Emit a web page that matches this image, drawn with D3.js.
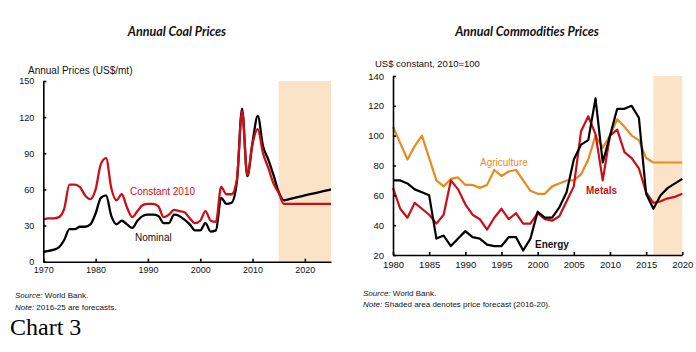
<!DOCTYPE html>
<html>
<head>
<meta charset="utf-8">
<script src="https://cdn.jsdelivr.net/npm/d3@7"></script>
<style>
  body { margin: 0; background: #fff; }
  svg { display: block; font-family: "Liberation Sans", Arial, sans-serif; }
</style>
</head>
<body>
<div id="chart"></div>
<script>
// Data
var coalYears = d3.range(1970, 2026);
var coalNominal = [8, 9, 10, 12, 18, 27, 27, 29, 29, 31, 40, 53, 55, 38, 31, 34, 31, 28, 34, 38,
    39, 39, 38, 32, 32, 39, 38, 35, 31, 26, 26, 32, 25, 26, 53, 48, 49, 66, 127, 71,
    99, 121, 96, 85, 72, 58, 51, 52, 53, 54, 55, 56, 57, 58, 59, 60];
var coalConstant = [35, 36, 36, 37, 44, 64, 64, 62, 55, 52, 60, 81, 86, 61, 51, 56, 45, 37, 42, 47,
    48, 48, 46, 37, 39, 43, 42, 41, 36, 32, 34, 42, 34, 33, 62, 56, 56, 68, 125, 72,
    98, 110, 90, 78, 65, 57, 48, 48, 48, 48, 48, 48, 48, 48, 48, 48];
var coalYTicks = [0, 30, 60, 90, 120, 150];
var coalXTicks = [1970, 1980, 1990, 2000, 2010, 2020];

var commYears = d3.range(1980, 2021);
var agriculture = [106, 95, 84, 93, 100, 85, 70, 66, 71, 72, 67, 67, 65, 67, 77, 73, 76, 77, 70, 63,
    61, 61, 66, 68, 70, 70, 74, 84, 100, 92, 100, 111, 106, 100, 97, 85, 82, 82, 82, 82, 82];
var metals = [65, 51, 45, 55, 51, 47, 41, 47, 70, 64, 54, 47, 44, 37, 45, 51, 44, 48, 41, 41,
    48, 44, 43, 46, 56, 66, 103, 113, 101, 70, 100, 104, 89, 85, 78, 62, 55, 56, 58, 59, 61];
var energy = [70, 70, 68, 64, 62, 60, 31, 33, 26, 31, 36, 32, 31, 27, 26, 26, 32, 32, 23, 31,
    49, 45, 45, 52, 62, 84, 94, 97, 125, 82, 100, 118, 118, 120, 112, 61, 51, 60, 65, 68, 71];
var commYTicks = [20, 40, 60, 80, 100, 120, 140];
var commXTicks = [1980, 1985, 1990, 1995, 2000, 2005, 2010, 2015, 2020];

var w = 696, h = 352;
var red = "#cc0f17", orange = "#e88a1f", shade = "#fbe3c8";

var svg = d3.select("#chart").append("svg")
    .attr("width", w)
    .attr("height", h);

// ---------- Left: coal prices ----------
var x1 = d3.scaleLinear().domain([1970, 2025]).range([43.3, 331]);
var y1 = d3.scaleLinear().domain([0, 150]).range([261.7, 81]);

svg.append("rect")
    .attr("x", x1(2015)).attr("y", y1(150))
    .attr("width", x1(2025) - x1(2015)).attr("height", y1(0) - y1(150))
    .style("fill", shade);

var line1 = d3.line()
    .x(function (d) { return x1(d[0]); })
    .y(function (d) { return y1(d[1]); })
    .curve(d3.curveMonotoneX);

svg.append("path")
    .datum(coalYears.map(function (yr, i) { return [yr, coalNominal[i]]; }))
    .attr("d", line1)
    .style("fill", "none").style("stroke", "#000").style("stroke-width", 2.3);

svg.append("path")
    .datum(coalYears.map(function (yr, i) { return [yr, coalConstant[i]]; }))
    .attr("d", line1)
    .style("fill", "none").style("stroke", red).style("stroke-width", 2.3);

var ax1 = svg.append("g")
    .attr("transform", "translate(0," + y1(0) + ")")
    .call(d3.axisBottom(x1).tickValues(coalXTicks).tickFormat(d3.format("d"))
        .tickSize(-3).tickSizeOuter(0).tickPadding(5));
var ay1 = svg.append("g")
    .attr("transform", "translate(" + x1(1970) + ",0)")
    .call(d3.axisLeft(y1).tickValues(coalYTicks).tickSize(-3).tickSizeOuter(0).tickPadding(9));

// ---------- Right: commodity prices ----------
var x2 = d3.scaleLinear().domain([1980, 2020]).range([393, 682.3]);
var y2 = d3.scaleLinear().domain([20, 140]).range([255, 76]);

svg.append("rect")
    .attr("x", x2(2016)).attr("y", y2(140))
    .attr("width", x2(2020) - x2(2016)).attr("height", y2(20) - y2(140))
    .style("fill", shade);

var line2 = d3.line()
    .x(function (d) { return x2(d[0]); })
    .y(function (d) { return y2(d[1]); });

[[agriculture, orange], [metals, red], [energy, "#000"]].forEach(function (s) {
    svg.append("path")
        .datum(commYears.map(function (yr, i) { return [yr, s[0][i]]; }))
        .attr("d", line2)
        .style("fill", "none").style("stroke", s[1]).style("stroke-width", 2.2)
        .style("stroke-linejoin", "round");
});

var ax2 = svg.append("g")
    .attr("transform", "translate(0," + y2(20) + ")")
    .call(d3.axisBottom(x2).tickValues(commXTicks).tickFormat(d3.format("d"))
        .tickSize(-3).tickSizeOuter(0).tickPadding(6));
var ay2 = svg.append("g")
    .attr("transform", "translate(" + x2(1980) + ",0)")
    .call(d3.axisLeft(y2).tickValues(commYTicks).tickSize(-3).tickSizeOuter(0).tickPadding(9));

// axis styling
[ax1, ay1, ax2, ay2].forEach(function (a) {
    a.selectAll("path, line").style("stroke", "#000").style("stroke-width", 1.6);
    a.selectAll("text").style("font-family", "Liberation Sans, Arial, sans-serif")
        .style("font-size", "9px").style("fill", "#111");
});
[ax2, ay2].forEach(function (a) { a.selectAll("text").style("font-size", "9.5px"); });

// ---------- Texts ----------
function txt(x, y, s, size, opts) {
    opts = opts || {};
    return svg.append("text")
        .attr("x", x).attr("y", y)
        .attr("text-anchor", opts.anchor || "start")
        .style("font-size", size + "px")
        .style("font-style", opts.italic ? "italic" : "normal")
        .style("font-weight", opts.bold ? "bold" : "normal")
        .style("font-family", opts.family || "Liberation Sans, Arial, sans-serif")
        .style("fill", opts.fill || "#111")
        .text(s);
}

txt(177, 36, "Annual Coal Prices", 12.5, { anchor: "middle", italic: true, bold: true, family: "Lato, Liberation Sans, sans-serif" });
txt(527, 36, "Annual Commodities Prices", 12.5, { anchor: "middle", italic: true, bold: true, family: "Lato, Liberation Sans, sans-serif" });

txt(28, 74, "Annual Prices (US$/mt)", 10);
txt(375, 67, "US$ constant, 2010=100", 9.5);

txt(130, 195, "Constant 2010", 10, { fill: red });
txt(135, 241, "Nominal", 10);
txt(480, 166, "Agriculture", 10, { fill: orange });
txt(586, 194, "Metals", 10, { fill: red, bold: true });
txt(535, 248, "Energy", 10, { bold: true });

function note(x, y, lead, rest) {
    var t = txt(x, y, "", 8);
    t.append("tspan").style("font-style", "italic").text(lead);
    t.append("tspan").text(rest);
}
note(15, 298, "Source:", " World Bank.");
note(15, 310, "Note:", " 2016-25 are forecasts.");
note(363, 296, "Source:", " World Bank.");
note(363, 307, "Note:", "  Shaded area denotes price forecast (2016-20).");

txt(10, 335, "Chart 3", 24, { family: "Liberation Serif, Times New Roman, serif", fill: "#000" });
</script>
</body>
</html>
